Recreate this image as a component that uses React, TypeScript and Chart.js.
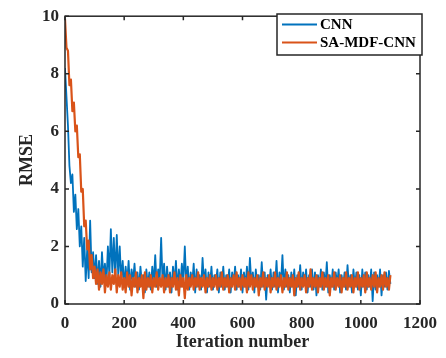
import React, { useEffect, useRef } from "react";
import { Chart, registerables } from "chart.js";

Chart.register(...registerables);

// RMSE sampled every 5 iterations (0 .. 1100)
const ITERATION_STEP = 5;

const cnnRmse: number[] = [
  8.2, 7.2, 6.2, 4.8, 4.2, 4.5, 3.2, 3.8, 2.6, 3.3, 2.0, 2.7, 1.3, 2.3, 0.8, 1.9, 0.9, 2.9, 1.1, 1.8,
  0.9, 1.7, 0.7, 1.5, 0.6, 1.8, 0.9, 1.4, 0.7, 2.0, 1.0, 2.6, 1.1, 2.3, 0.9, 2.4, 1.0, 2.0, 0.8, 1.5,
  0.6, 1.3, 0.7, 1.5, 0.5, 1.2, 0.8, 1.4, 0.6, 1.1, 0.5, 1.3, 0.7, 1.0, 0.4, 1.2, 0.6, 1.1, 0.5, 1.3,
  0.7, 1.7, 0.6, 1.2, 0.8, 2.3, 0.7, 1.4, 0.5, 1.3, 0.6, 1.1, 0.4, 1.3, 0.7, 1.5, 0.5, 1.2, 0.6, 1.4,
  0.8, 2.0, 0.6, 1.3, 0.5, 1.1, 0.7, 1.4, 0.4, 1.2, 0.6, 1.0, 0.5, 1.6, 0.7, 1.2, 0.4, 1.1, 0.6, 1.3,
  0.5, 1.0, 0.7, 1.2, 0.4, 1.1, 0.6, 1.3, 0.5, 1.0, 0.6, 1.2, 0.4, 1.1, 0.7, 1.3, 0.5, 1.0, 0.6, 1.2,
  0.4, 1.1, 0.6, 1.3, 0.5, 1.6, 0.7, 1.1, 0.4, 1.2, 0.6, 1.0, 0.5, 1.45, 0.6, 1.1, 0.15, 1.0, 0.6, 1.2,
  0.5, 1.1, 0.6, 1.5, 0.4, 1.1, 0.7, 1.7, 0.5, 1.2, 0.6, 1.0, 0.4, 1.1, 0.6, 1.2, 0.3, 1.0, 0.6, 1.35,
  0.5, 1.1, 0.7, 1.2, 0.4, 1.0, 0.6, 1.2, 0.5, 1.1, 0.3, 1.0, 0.6, 1.2, 0.5, 1.1, 0.6, 1.45, 0.4, 1.0,
  0.6, 1.2, 0.5, 1.1, 0.7, 1.2, 0.4, 1.0, 0.6, 1.1, 0.5, 1.35, 0.6, 1.0, 0.4, 1.2, 0.6, 1.1, 0.5, 1.0,
  0.3, 1.2, 0.6, 1.1, 0.5, 1.0, 0.6, 1.2, 0.1, 1.1, 0.5, 1.0, 0.6, 1.2, 0.3, 1.0, 0.6, 1.1, 0.5, 1.15,
  0.7,
];

const saMdfCnnRmse: number[] = [
  9.9, 8.9, 8.8, 7.6, 7.8, 6.7, 7.0, 6.0, 6.2, 5.1, 5.2, 3.9, 4.0, 2.7, 2.9, 1.9, 2.2, 1.2, 1.7, 0.9,
  1.3, 0.7, 1.2, 0.5, 1.1, 0.7, 1.2, 0.4, 1.0, 0.6, 1.1, 0.5, 1.0, 0.7, 1.2, 0.4, 1.0, 0.6, 1.1, 0.5,
  0.9, 0.4, 1.1, 0.6, 1.0, 0.3, 0.9, 0.6, 1.1, 0.4, 0.9, 0.6, 1.0, 0.2, 1.1, 0.5, 0.9, 0.6, 1.0, 0.4,
  0.9, 0.6, 1.1, 0.5, 0.9, 0.6, 1.0, 0.4, 0.9, 0.6, 1.0, 0.4, 0.9, 0.6, 1.1, 0.5, 0.9, 0.3, 1.0, 0.6,
  0.9, 0.2, 1.0, 0.5, 0.9, 0.6, 1.0, 0.5, 0.9, 0.6, 1.1, 0.5, 0.9, 0.6, 1.0, 0.4, 0.9, 0.6, 1.0, 0.5,
  0.9, 0.6, 1.0, 0.5, 0.9, 0.6, 1.1, 0.5, 0.9, 0.6, 1.0, 0.4, 0.9, 0.6, 1.0, 0.5, 1.1, 0.6, 0.9, 0.5,
  1.0, 0.6, 0.9, 0.4, 1.1, 0.6, 1.0, 0.5, 0.9, 0.6, 1.0, 0.3, 0.9, 0.6, 1.1, 0.5, 0.9, 0.6, 1.0, 0.4,
  0.9, 0.6, 1.1, 0.5, 0.9, 0.6, 1.0, 0.4, 0.9, 0.6, 1.1, 0.5, 0.9, 0.6, 1.0, 0.3, 0.9, 0.6, 1.1, 0.5,
  0.9, 0.6, 1.0, 0.4, 0.9, 0.6, 1.2, 0.5, 0.9, 0.6, 1.0, 0.4, 0.9, 0.6, 1.1, 0.5, 0.9, 0.6, 1.0, 0.3,
  0.9, 0.6, 1.1, 0.5, 0.9, 0.6, 1.0, 0.4, 0.9, 0.6, 1.1, 0.5, 0.9, 0.6, 1.0, 0.4, 0.9, 0.6, 1.1, 0.5,
  0.9, 0.6, 1.0, 0.4, 1.1, 0.6, 0.9, 0.5, 1.0, 0.6, 1.1, 0.4, 0.9, 0.6, 1.0, 0.5, 1.1, 0.6, 0.9, 0.5,
  1.0,
];

const seriesLabels = ["CNN", "SA-MDF-CNN"];
const seriesColors = ["#0072BD", "#D95319"];
const xTickValues = [0, 200, 400, 600, 800, 1000, 1200];
const yTickValues = [0, 2, 4, 6, 8, 10];
const xTitle = "Iteration number";
const yTitle = "RMSE";

const FONT = "'Liberation Serif', 'Times New Roman', serif";
const AXIS_COLOR = "#262626";

const boxPlugin = {
  id: "matlabBox",
  afterDraw(chart: any) {
    const { ctx, chartArea } = chart;
    const { left, right, top, bottom } = chartArea;
    const xs = chart.scales.x;
    const ys = chart.scales.y;
    ctx.save();
    ctx.strokeStyle = AXIS_COLOR;
    ctx.lineWidth = 1.5;
    ctx.strokeRect(left, top, right - left, bottom - top);
    const tl = 4;
    ctx.beginPath();
    xTickValues.forEach((v) => {
      const px = xs.getPixelForValue(v);
      ctx.moveTo(px, bottom);
      ctx.lineTo(px, bottom - tl);
      ctx.moveTo(px, top);
      ctx.lineTo(px, top + tl);
    });
    yTickValues.forEach((v) => {
      const py = ys.getPixelForValue(v);
      ctx.moveTo(left, py);
      ctx.lineTo(left + tl, py);
      ctx.moveTo(right, py);
      ctx.lineTo(right - tl, py);
    });
    ctx.stroke();

    // legend
    const lx = 277, ly = 14, lw = 145, lh = 41;
    ctx.fillStyle = "#ffffff";
    ctx.fillRect(lx, ly, lw, lh);
    ctx.lineWidth = 1.5;
    ctx.strokeStyle = AXIS_COLOR;
    ctx.strokeRect(lx, ly, lw, lh);
    const rows = [24.5, 42.5];
    chart.data.datasets.forEach((ds: any, i: number) => {
      const y = rows[i];
      ctx.strokeStyle = ds.borderColor;
      ctx.lineWidth = 2;
      ctx.beginPath();
      ctx.moveTo(282, y);
      ctx.lineTo(317, y);
      ctx.stroke();
      ctx.fillStyle = "#000000";
      ctx.font = `bold 15px ${FONT}`;
      ctx.textAlign = "left";
      ctx.textBaseline = "middle";
      ctx.fillText(ds.label, 320, y + 0.5);
    });
    ctx.restore();
  },
};

export default function App() {
  const ref = useRef<HTMLCanvasElement | null>(null);

  useEffect(() => {
    if (!ref.current) return;
    const iterations = cnnRmse.map((_, i) => i * ITERATION_STEP);
    const chart = new Chart(ref.current, {
      type: "line",
      data: {
        datasets: [
          {
            label: seriesLabels[0],
            data: cnnRmse.map((v, i) => ({ x: iterations[i], y: v })),
            borderColor: seriesColors[0],
            borderWidth: 1.8,
            borderJoinStyle: "round",
            pointRadius: 0,
            tension: 0,
            order: 2,
          },
          {
            label: seriesLabels[1],
            data: saMdfCnnRmse.map((v, i) => ({ x: iterations[i], y: v })),
            borderColor: seriesColors[1],
            borderWidth: 2.2,
            borderJoinStyle: "round",
            pointRadius: 0,
            tension: 0,
            order: 1,
          },
        ],
      },
      options: {
        animation: false,
        responsive: false,
        layout: { padding: { top: 5, right: 15, left: 0, bottom: 0 } },
        plugins: { legend: { display: false }, tooltip: { enabled: false } },
        scales: {
          x: {
            type: "linear",
            min: 0,
            max: 1200,
            afterBuildTicks: (s: any) => {
              s.ticks = xTickValues.map((v) => ({ value: v }));
            },
            afterFit: (s: any) => {
              s.height = 54;
            },
            grid: { display: false, drawTicks: false },
            border: { display: false },
            ticks: {
              padding: 9,
              color: AXIS_COLOR,
              font: { family: FONT, size: 17, weight: "bold" },
              maxRotation: 0,
              callback: (v: any) => String(v),
            },
            title: {
              display: true,
              text: xTitle,
              color: AXIS_COLOR,
              font: { family: FONT, size: 18, weight: "bold" },
              padding: { top: 0, bottom: 5 },
            },
          },
          y: {
            type: "linear",
            min: 0,
            max: 10,
            afterBuildTicks: (s: any) => {
              s.ticks = yTickValues.map((v) => ({ value: v }));
            },
            afterFit: (s: any) => {
              s.width = 65;
            },
            grid: { display: false, drawTicks: false },
            border: { display: false },
            ticks: {
              padding: 6,
              color: AXIS_COLOR,
              font: { family: FONT, size: 17, weight: "bold" },
              callback: (v: any) => String(v),
            },
            title: {
              display: true,
              text: yTitle,
              color: AXIS_COLOR,
              font: { family: FONT, size: 18, weight: "bold" },
              padding: { top: 17, bottom: 0 },
            },
          },
        },
      },
      plugins: [boxPlugin],
    });
    return () => chart.destroy();
  }, []);

  return (
    <div style={{ position: "fixed", left: 0, top: 0, width: 446, height: 358, background: "#fff" }}>
      <canvas ref={ref} width={446} height={358} style={{ display: "block" }} />
    </div>
  );
}
